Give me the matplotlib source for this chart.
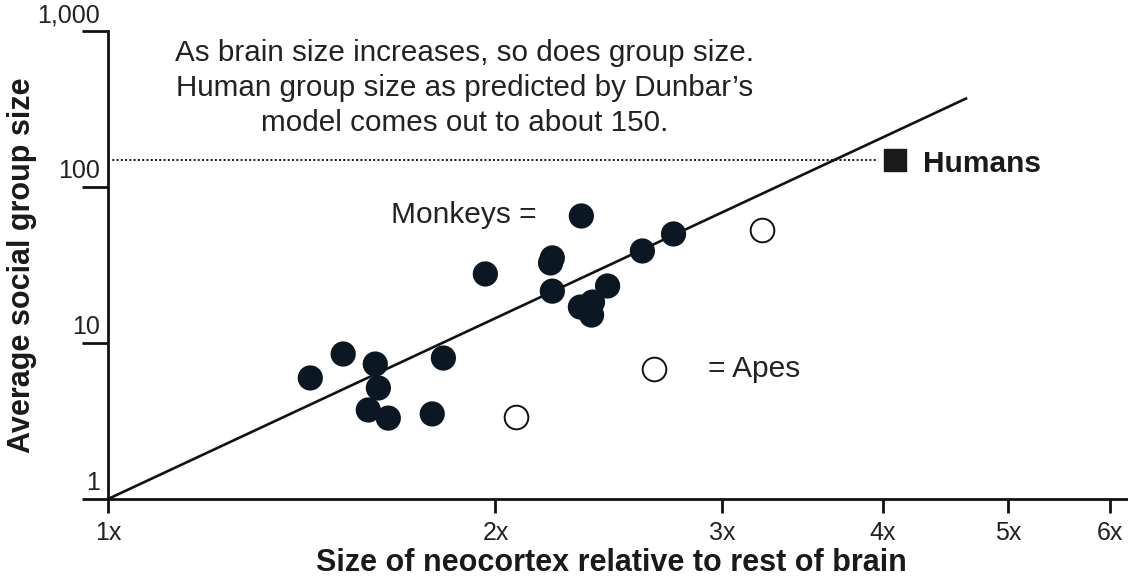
import matplotlib
matplotlib.use("Agg")
import matplotlib.pyplot as plt
import matplotlib.transforms as mtransforms

plt.rcParams['font.family'] = ['Liberation Sans', 'DejaVu Sans']

# Data (neocortex ratio, mean group size)
monkey_x = [1.436, 1.523, 1.613, 1.622, 1.593, 1.651, 1.786, 1.822, 1.964, 2.207,
            2.214, 2.214, 2.332, 2.328, 2.379, 2.375, 2.444, 2.601, 2.750]
monkey_y = [5.97, 8.50, 7.33, 5.15, 3.72, 3.30, 3.51, 8.01, 27.7, 32.6,
            35.1, 21.5, 65.2, 17.0, 18.3, 15.1, 23.2, 38.9, 50.0]
ape_x = [2.076, 2.654, 3.22]
ape_y = [3.36, 6.81, 53.0]
human_x = [4.09]
human_y = [148]
fit_x = [1.0, 4.65]
fit_y = [1.0, 372]

x_ticks = [1, 2, 3, 4, 5, 6]
x_ticklabels = ['1x', '2x', '3x', '4x', '5x', '6x']
y_ticks = [1, 10, 100, 1000]
y_ticklabels = ['1', '10', '100', '1,000']

dark = '#0b1722'
textc = '#222222'

fig = plt.figure(figsize=(11.28, 5.8), dpi=100)
ax = fig.add_axes([108/1128, 81/580, 1020/1128, 468/580])
ax.set_xscale('log')
ax.set_yscale('log')
ax.set_xlim(1, 6.2)
ax.set_ylim(1, 1000)

for s in ['top', 'right']:
    ax.spines[s].set_visible(False)
for s in ['left', 'bottom']:
    ax.spines[s].set_linewidth(2.0)
    ax.spines[s].set_color('#111111')

# fit line
ax.plot(fit_x, fit_y, color='#111111', lw=1.9, zorder=2, solid_capstyle='butt')
# dotted human line
ax.plot([1, human_x[0] * 0.97], [human_y[0], human_y[0]], color='#111111', lw=1.4,
        linestyle=(0, (1, 1.2)), zorder=2)

ax.scatter(monkey_x, monkey_y, s=330, color=dark, edgecolors='none', zorder=3)
ax.scatter(ape_x, ape_y, s=290, facecolor='white', edgecolors='#111111', linewidths=1.4, zorder=3)
ax.scatter(human_x, human_y, s=260, marker='s', color='#1a1a1a', zorder=3)

# ticks
ax.set_xticks(x_ticks)
ax.set_xticklabels(x_ticklabels)
ax.xaxis.set_minor_locator(matplotlib.ticker.NullLocator())
ax.yaxis.set_minor_locator(matplotlib.ticker.NullLocator())
ax.tick_params(axis='x', direction='out', length=10, width=2.0, pad=6,
               labelsize=18, labelcolor=textc, color='#111111')
ax.set_yticks(y_ticks)
ax.set_yticklabels([])
ax.tick_params(axis='y', direction='out', length=19, width=2.0, color='#111111')

trans = mtransforms.blended_transform_factory(ax.transAxes, ax.transData)
trans = mtransforms.offset_copy(trans, fig=fig, x=-8, y=9, units='dots')
for v, lab in zip(y_ticks, y_ticklabels):
    ax.text(0, v, lab, transform=trans, ha='right', va='baseline', fontsize=18,
            color=textc, clip_on=False)

fig.text(611/1128, 1 - 563/580, 'Size of neocortex relative to rest of brain', fontsize=22,
         fontweight='bold', color='#1a1a1a', ha='center', va='center')
fig.text(22/1128, 1 - 265/580, 'Average social group size', rotation=90, fontsize=22,
         fontweight='bold', color='#1a1a1a', ha='center', va='center')

fig.text(465/1128, 1 - 88/580,
         "As brain size increases, so does group size.\nHuman group size as predicted by Dunbar\u2019s\nmodel comes out to about 150.",
         ha='center', va='center', fontsize=21.3, color=textc, linespacing=1.3)

fig.text(537/1128, 1 - 215/580, 'Monkeys =', ha='right', va='center', fontsize=21.5, color=textc)
fig.text(708/1128, 1 - 369/580, '= Apes', ha='left', va='center', fontsize=21.5, color=textc)
fig.text(923/1128, 1 - 164/580, 'Humans', ha='left', va='center', fontsize=21.5,
         fontweight='bold', color='#1a1a1a')

fig.savefig('out.png', dpi=100)
